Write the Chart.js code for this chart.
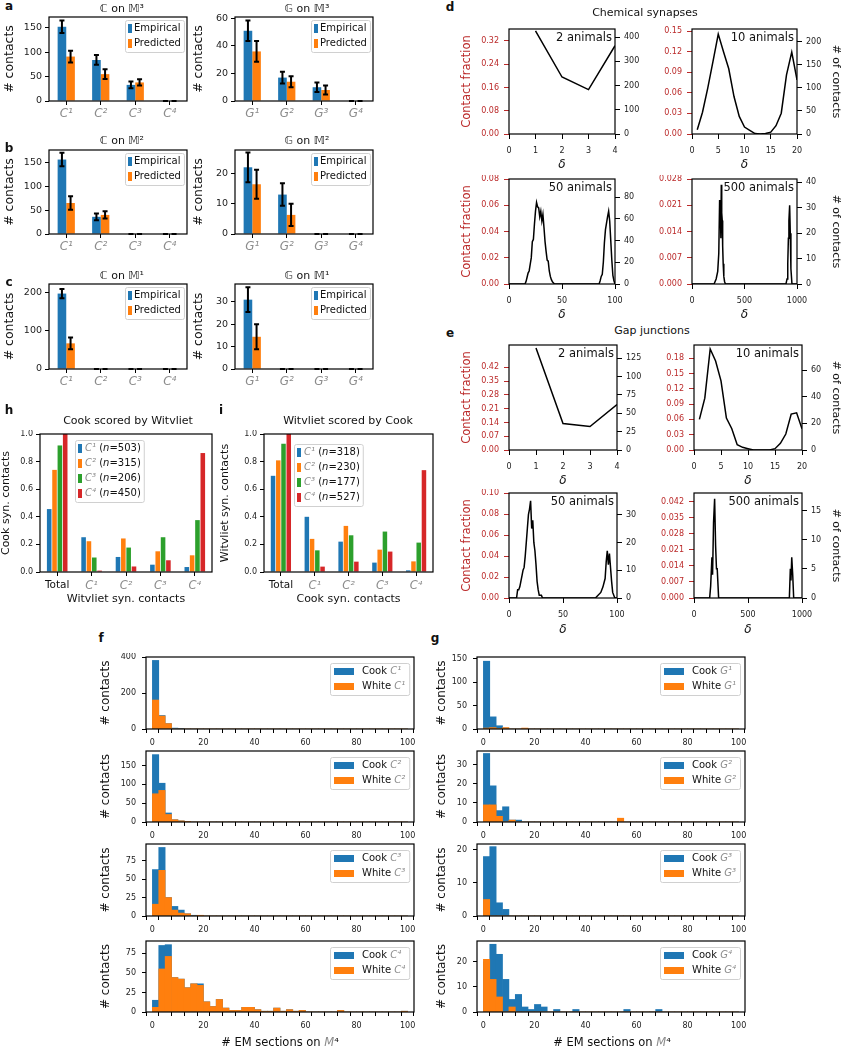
<!DOCTYPE html>
<html>
<head>
<meta charset="utf-8">
<title>Contact statistics</title>
<script src="https://cdn.jsdelivr.net/npm/chart.js@4.4.1/dist/chart.umd.min.js"></script>
<style>
  html, body { margin: 0; padding: 0; background: #fff; }
  body { position: relative; width: 841px; height: 1050px; overflow: hidden; font-family: 'DejaVu Sans', sans-serif; color: #111; }
  canvas { position: absolute; }
  .t { position: absolute; transform: translate(-50%, -50%); white-space: nowrap; line-height: 1; }
  .panel { font-weight: bold; font-size: 12px; }
  .m { font-style: italic; color: #8c8c8c; }
</style>
</head>
<body>
<script>
// ---------- data ----------

// a-c: empirical vs predicted contacts per class
const chemClasses = ['C¹', 'C²', 'C³', 'C⁴'];
const gapClasses = ['G¹', 'G²', 'G³', 'G⁴'];

const empC3 = [152, 84, 33, 0];
const empC3Err = [13, 10, 7, 0];
const predC3 = [91, 55, 38, 0];
const predC3Err = [12, 10, 6.5, 0];
const empG3 = [51, 17, 10, 0];
const empG3Err = [7.5, 4.3, 3.5, 0];
const predG3 = [36, 14, 8, 0];
const predG3Err = [7.5, 4, 3.2, 0];

const empC2 = [156, 36, 0, 0];
const empC2Err = [14, 7, 0, 0];
const predC2 = [65, 40, 0, 0];
const predC2Err = [14, 7.5, 0, 0];
const empG2 = [22, 13, 0, 0];
const empG2Err = [4.9, 3.7, 0, 0];
const predG2 = [16.4, 6.3, 0, 0];
const predG2Err = [4.8, 3.7, 0, 0];

const empC1 = [197, 0, 0, 0];
const empC1Err = [12, 0, 0, 0];
const predC1 = [67, 0, 0, 0];
const predC1Err = [15.5, 0, 0, 0];
const empG1 = [31, 0, 0, 0];
const empG1Err = [5.5, 0, 0, 0];
const predG1 = [14.4, 0, 0, 0];
const predG1Err = [5.6, 0, 0, 0];

// h / i: cross-dataset scoring
const scoreGroups = ['Total', 'C¹', 'C²', 'C³', 'C⁴'];
const cookC1 = [0.456, 0.252, 0.109, 0.053, 0.036];
const cookC2 = [0.74, 0.223, 0.243, 0.15, 0.121];
const cookC3 = [0.917, 0.105, 0.177, 0.252, 0.376];
const cookC4 = [1.0, 0.01, 0.04, 0.085, 0.862];
const cookN = [503, 315, 206, 450];
const witC1 = [0.697, 0.4, 0.22, 0.068, 0.012];
const witC2 = [0.809, 0.24, 0.334, 0.162, 0.077];
const witC3 = [0.93, 0.157, 0.266, 0.293, 0.213];
const witC4 = [1.0, 0.039, 0.075, 0.148, 0.738];
const witN = [318, 230, 177, 527];

// d: chemical synapses, # of contacts vs delta
const chem2Delta = [1, 2, 3, 4];
const chem2Count = [425, 235, 183, 364];
const chem10Delta = [1, 2, 3, 4, 5, 6, 7, 8, 9, 10, 11, 12, 13, 14, 15, 16, 17, 18, 19, 20];
const chem10Count = [9, 47, 99, 157, 216, 178, 141, 81, 38, 15, 8, 1, 0, 1, 4, 18, 45, 128, 177, 117];
const chem50Delta = [0, 15, 16, 17, 18, 19, 20, 21, 22, 23, 24, 25, 26, 27, 28, 29, 30, 31, 32, 33, 34, 35, 36, 37, 38, 39, 40, 41, 42, 43,
  85, 86, 87, 88, 89, 90, 91, 92, 93, 94, 95, 96, 97, 98, 99, 100];
const chem50Count = [0, 0, 2, 6, 10, 12, 18, 24, 39, 41, 55, 67, 75, 71, 70, 62, 67, 58, 64, 52, 39, 30, 22, 21, 12, 7, 4, 2, 1, 0,
  0, 3, 7, 9, 20, 38, 50, 56, 62, 67, 58, 40, 22, 8, 3, 0];
const chem500Delta = [0, 210, 230, 245, 255, 263, 270, 275, 279, 283, 288, 292, 297, 303, 310, 318, 895, 905, 912, 918, 923, 930, 936, 942, 952, 1000];
const chem500Count = [0, 0, 2, 5, 12, 33, 30, 18, 39, 28, 25, 15, 8, 3, 1, 0, 0, 2, 8, 18, 25, 31, 20, 6, 0, 0];

// e: gap junctions
const gap2Delta = [1, 2, 3, 4];
const gap2Count = [139, 36, 32, 62];
const gap10Delta = [1, 2, 3, 4, 5, 6, 7, 8, 9, 10, 11, 12, 13, 14, 15, 16, 17, 18, 19, 20];
const gap10Count = [23, 39, 76, 67, 52, 24, 16, 4, 2, 1, 0, 0, 0, 0, 1, 5, 12, 27, 28, 16];
const gap50Delta = [0, 7, 8, 9, 10, 11, 12, 13, 14, 15, 16, 17, 18, 19, 20, 21, 22, 23, 24, 25, 26, 27, 28, 29, 30, 31,
  80, 85, 87, 89, 90, 91, 92, 93, 95, 96, 98, 100];
const gap50Count = [0, 0, 3, 3, 4, 6, 8, 10, 11, 15, 20, 25, 30, 32, 35, 25, 28, 20, 17, 12, 6, 3, 1, 1, 1, 0,
  0, 2, 4, 7, 13, 17, 12, 16, 6, 2, 0, 0];
const gap500Delta = [0, 145, 154, 166, 172, 181, 191, 200, 208, 215, 228, 883, 892, 898, 905, 914, 923, 1000];
const gap500Count = [0, 0, 2, 7, 4, 13, 17, 9, 5, 5, 0, 0, 5, 3, 7, 4, 0, 0];

// f / g: histograms of # EM sections (bins of 2.5 from 0 to 100)
const BIN = 2.5;
const cookC1Hist = [381, 75, 30, 5, 1, 0, 0, 0, 0, 0, 0, 0, 0, 0, 0, 0, 0, 0, 0, 0, 0, 0, 0, 0, 0, 0, 0, 0, 0, 0, 0, 0, 0, 0, 0, 0, 0, 0, 0, 0];
const whiteC1Hist = [161, 72, 30, 0, 0, 0, 0, 0, 0, 0, 0, 0, 0, 0, 0, 0, 0, 0, 0, 0, 0, 0, 0, 0, 0, 0, 0, 0, 0, 0, 0, 0, 0, 0, 0, 0, 0, 0, 0, 0];
const cookC2Hist = [179, 103, 24, 6, 3, 1, 0, 0, 0, 0, 0, 0, 0, 0, 0, 0, 0, 0, 0, 0, 0, 0, 0, 0, 0, 0, 0, 0, 0, 0, 0, 0, 0, 0, 0, 0, 0, 0, 0, 0];
const whiteC2Hist = [75, 84, 20, 6, 3, 1, 0, 0, 0, 0, 0, 0, 0, 0, 0, 0, 0, 0, 0, 0, 0, 0, 0, 0, 0, 0, 0, 0, 0, 0, 0, 0, 0, 0, 0, 0, 0, 0, 0, 0];
const cookC3Hist = [63, 93, 25, 13, 8, 3, 1, 0, 0, 0, 0, 0, 0, 0, 0, 0, 0, 0, 0, 0, 0, 0, 0, 0, 0, 0, 0, 0, 0, 0, 0, 0, 0, 0, 0, 0, 0, 0, 0, 0];
const whiteC3Hist = [16, 62, 25, 8, 4, 3, 0, 1, 0, 0, 0, 0, 0, 0, 0, 0, 0, 0, 0, 0, 0, 0, 0, 0, 0, 0, 0, 0, 0, 0, 0, 0, 0, 0, 0, 0, 0, 0, 0, 0];
const cookC4Hist = [15, 85, 86, 44, 42, 31, 36, 36, 13, 7, 16, 5, 2, 2, 6, 6, 3, 1, 1, 5, 1, 3, 1, 2, 0, 0, 0, 0, 0, 2, 0, 0, 0, 0, 0, 0, 0, 0, 0, 1];
const whiteC4Hist = [6, 55, 71, 44, 42, 31, 36, 34, 13, 7, 16, 5, 2, 2, 6, 6, 3, 1, 1, 5, 1, 3, 1, 2, 0, 0, 0, 0, 0, 2, 0, 0, 0, 0, 0, 0, 0, 0, 0, 1];
const cookG1Hist = [145, 26, 7, 2, 0, 0, 0, 0, 0, 0, 0, 0, 0, 0, 0, 0, 0, 0, 0, 0, 0, 0, 0, 0, 0, 0, 0, 0, 0, 0, 0, 0, 0, 0, 0, 0, 0, 0, 0, 0];
const whiteG1Hist = [2, 3, 1, 3, 0, 0, 2, 0, 0, 0, 0, 0, 0, 0, 0, 0, 0, 0, 0, 0, 0, 0, 0, 0, 0, 0, 0, 0, 0, 0, 0, 0, 0, 0, 0, 0, 0, 0, 0, 0];
const cookG2Hist = [36, 19, 6, 8, 1, 1, 0, 0, 0, 0, 0, 0, 0, 0, 0, 0, 0, 0, 0, 0, 0, 0, 0, 0, 0, 0, 0, 0, 0, 0, 0, 0, 0, 0, 0, 0, 0, 0, 0, 0];
const whiteG2Hist = [9, 9, 3, 0, 1, 0, 0, 0, 0, 0, 0, 0, 0, 0, 0, 0, 0, 0, 0, 0, 0, 2, 0, 0, 0, 0, 0, 0, 0, 0, 0, 0, 0, 0, 0, 0, 0, 0, 0, 0];
const cookG3Hist = [18, 21, 4, 2, 0, 0, 0, 0, 0, 0, 0, 0, 0, 0, 0, 0, 0, 0, 0, 0, 0, 0, 0, 0, 0, 0, 0, 0, 0, 0, 0, 0, 0, 0, 0, 0, 0, 0, 0, 0];
const whiteG3Hist = [5, 0, 0, 0, 0, 0, 0, 0, 0, 0, 0, 0, 0, 0, 0, 0, 0, 0, 0, 0, 0, 0, 0, 0, 0, 0, 0, 0, 0, 0, 0, 0, 0, 0, 0, 0, 0, 0, 0, 0];
const cookG4Hist = [20, 27, 23, 13, 5, 7, 2, 1, 3, 2, 0, 1, 0, 0, 1, 0, 0, 0, 0, 0, 0, 0, 1, 0, 0, 0, 0, 1, 0, 0, 0, 0, 0, 0, 0, 0, 0, 0, 0, 0];
const whiteG4Hist = [21, 13, 6, 0, 2, 0, 0, 0, 0, 0, 0, 0, 0, 0, 0, 0, 0, 0, 0, 0, 0, 0, 0, 0, 0, 0, 0, 0, 0, 0, 0, 0, 0, 0, 0, 0, 0, 0, 0, 0];

// ---------- styling ----------
const BLUE = '#1f77b4', ORANGE = '#ff7f0e', GREEN = '#2ca02c', RED = '#d62728';
const FRAC_RED = '#bb2a2a';
const MATH_GRAY = '#8c8c8c';

Chart.defaults.font.family = "'DejaVu Sans', sans-serif";
Chart.defaults.color = '#222';
Chart.defaults.plugins.legend.display = false;
Chart.defaults.plugins.tooltip.enabled = false;

// box around the plot area, like matplotlib spines
const frame = {
  id: 'frame',
  afterDraw(chart) {
    const { ctx, chartArea: a } = chart;
    ctx.save();
    ctx.strokeStyle = '#000';
    ctx.lineWidth = 1.2;
    ctx.strokeRect(a.left, a.top, a.right - a.left, a.bottom - a.top);
    ctx.restore();
  }
};

// vertical error bars with caps
const errBars = {
  id: 'errBars',
  afterDatasetsDraw(chart) {
    const ctx = chart.ctx;
    chart.data.datasets.forEach((ds, i) => {
      if (!ds.errors) return;
      const meta = chart.getDatasetMeta(i);
      const ys = chart.scales[meta.yAxisID];
      meta.data.forEach((bar, j) => {
        const v = ds.data[j], e = ds.errors[j];
        const lo = ys.getPixelForValue(v - e), hi = ys.getPixelForValue(v + e);
        ctx.save();
        ctx.strokeStyle = '#000';
        ctx.lineWidth = 2;
        ctx.beginPath();
        ctx.moveTo(bar.x, lo); ctx.lineTo(bar.x, hi);
        ctx.moveTo(bar.x - 2.5, lo); ctx.lineTo(bar.x + 2.5, lo);
        ctx.moveTo(bar.x - 2.5, hi); ctx.lineTo(bar.x + 2.5, hi);
        ctx.stroke();
        ctx.restore();
      });
    });
  }
};

// "N animals" label in the top right corner
const cornerText = {
  id: 'cornerText',
  afterDraw(chart, args, o) {
    if (!o || !o.text) return;
    const { ctx, chartArea: a } = chart;
    ctx.save();
    ctx.font = "11.5px 'DejaVu Sans', sans-serif";
    ctx.fillStyle = '#111';
    ctx.textAlign = 'right';
    ctx.textBaseline = 'top';
    ctx.fillText(o.text, a.right - 3, a.top + 3);
    ctx.restore();
  }
};

// matplotlib-like legend box drawn inside the plot
const boxLegend = {
  id: 'boxLegend',
  afterDraw(chart, args, o) {
    if (!o || !o.items) return;
    const { ctx, chartArea: a } = chart;
    const fs = o.size || 10;
    const fontOf = (p) => (p.m || p.i ? 'italic ' : '') + fs + "px 'DejaVu Sans', sans-serif";
    ctx.save();
    const widths = o.items.map((it) => it.parts.reduce((w, p) => { ctx.font = fontOf(p); return w + ctx.measureText(p.t).width; }, 0));
    const bw = o.padX * 2 + o.patchW + o.gap + Math.max(...widths);
    const bh = o.padY * 2 + o.items.length * o.rowH;
    const x = Math.round(o.side === 'left' ? a.left + o.dx : a.right - o.dx - bw);
    const y = Math.round(a.top + o.dy);
    ctx.fillStyle = 'rgba(255,255,255,0.85)';
    ctx.strokeStyle = '#d0d0d0';
    ctx.lineWidth = 1;
    ctx.beginPath();
    ctx.roundRect(x + 0.5, y + 0.5, bw, bh, 2);
    ctx.fill();
    ctx.stroke();
    o.items.forEach((it, k) => {
      const cy = y + o.padY + (k + 0.5) * o.rowH;
      ctx.fillStyle = it.color;
      ctx.fillRect(x + o.padX, cy - o.patchH / 2, o.patchW, o.patchH);
      let tx = x + o.padX + o.patchW + o.gap;
      ctx.textBaseline = 'middle';
      it.parts.forEach((p) => {
        ctx.font = fontOf(p);
        ctx.fillStyle = p.m ? MATH_GRAY : '#111';
        ctx.fillText(p.t, tx, cy);
        tx += ctx.measureText(p.t).width;
      });
    });
    ctx.restore();
  }
};

Chart.register(frame, errBars, cornerText, boxLegend);

// ---------- helpers ----------
function fixW(px) {
  return (s) => { s.width = px; s.paddingLeft = s.paddingRight = s.paddingTop = s.paddingBottom = 0; };
}
function fixH(px) {
  return (s) => { s.height = px; s.paddingLeft = s.paddingRight = s.paddingTop = s.paddingBottom = 0; };
}

// rect = plot area [x0, y0, x1, y1] on the page; pad = room for axes around it
function makeChart(rect, pad, config) {
  const [x0, y0, x1, y1] = rect;
  const cv = document.createElement('canvas');
  const w = x1 - x0 + pad.l + pad.r;
  const h = y1 - y0 + pad.t + pad.b;
  cv.width = w;
  cv.height = h;
  Object.assign(cv.style, { left: (x0 - pad.l) + 'px', top: (y0 - pad.t) + 'px', width: w + 'px', height: h + 'px' });
  document.body.appendChild(cv);
  const o = config.options;
  o.responsive = false;
  o.animation = false;
  o.layout = { padding: { top: pad.t, left: 0, bottom: 0, right: pad.twin ? 0 : pad.r } };
  for (const s of Object.values(o.scales)) {
    if (s.position === 'bottom') s.afterFit = fixH(pad.b);
    else if (s.position === 'right') s.afterFit = fixW(pad.r);
    else s.afterFit = fixW(pad.l);
  }
  return new Chart(cv, config);
}

function linAxis(o) {
  const ax = {
    type: 'linear',
    position: o.position || 'left',
    min: o.min ?? 0,
    max: o.max,
    border: { display: false },
    grid: { drawOnChartArea: false, drawTicks: true, tickLength: o.tickLen ?? 4, tickColor: o.tickColor || '#000', tickWidth: 1 },
    ticks: {
      stepSize: o.step, autoSkip: false, maxRotation: 0, includeBounds: false,
      color: o.color || '#222', padding: o.pad ?? 3, font: { size: o.size ?? 9 },
      callback: o.fmt || ((v) => String(v))
    },
    title: o.title
      ? { display: true, text: o.title, padding: 0, color: o.titleColor || '#111', font: { size: o.titleSize ?? 11, style: o.titleStyle || 'normal' } }
      : { display: false }
  };
  if (o.ticks) ax.afterBuildTicks = (s) => { s.ticks = o.ticks.map((v) => ({ value: v })); };
  return ax;
}

function catAxis(o) {
  return {
    type: 'category',
    position: 'bottom',
    offset: true,
    border: { display: false },
    grid: { offset: false, drawOnChartArea: false, drawTicks: true, tickLength: 4, tickColor: '#000' },
    ticks: { color: o.color, font: o.font, padding: o.pad ?? 3, maxRotation: 0, autoSkip: false },
    title: o.title ? { display: true, text: o.title, padding: 0, color: '#111', font: { size: 11 } } : { display: false }
  };
}

const pairLegend = {
  side: 'right', dx: 3, dy: 3, padX: 3, padY: 1, rowH: 15, patchW: 4, patchH: 9, gap: 2, size: 10,
  items: [
    { color: BLUE, parts: [{ t: 'Empirical' }] },
    { color: ORANGE, parts: [{ t: 'Predicted' }] }
  ]
};

function contactChart(rect, padL, labels, emp, empErr, pred, predErr, yMax, yStep) {
  return makeChart(rect, { l: padL, r: 6, t: 4, b: 20 }, {
    type: 'bar',
    data: {
      labels,
      datasets: [
        { data: emp, errors: empErr, backgroundColor: BLUE, categoryPercentage: 0.5, barPercentage: 1 },
        { data: pred, errors: predErr, backgroundColor: ORANGE, categoryPercentage: 0.5, barPercentage: 1 }
      ]
    },
    options: {
      scales: {
        x: catAxis({ color: MATH_GRAY, font: { size: 12, style: 'italic' }, pad: 2 }),
        y: linAxis({ max: yMax, step: yStep, size: 9.5, pad: 3, title: '# contacts', titleSize: 12.5 })
      },
      plugins: { boxLegend: pairLegend }
    }
  });
}

function scoreChart(rect, padL, series, counts, yTitle, xTitle, legendDx, legendDy) {
  const colors = [BLUE, ORANGE, GREEN, RED];
  return makeChart(rect, { l: padL, r: 5, t: 4, b: 34 }, {
    type: 'bar',
    data: {
      labels: scoreGroups,
      datasets: series.map((d, k) => ({ data: d, backgroundColor: colors[k], categoryPercentage: 0.62, barPercentage: 0.86 }))
    },
    options: {
      scales: {
        x: catAxis({
          color: (c) => c.index === 0 ? '#111' : MATH_GRAY,
          font: (c) => c.index === 0 ? { size: 10.5 } : { size: 11.5, style: 'italic' },
          pad: 3, title: xTitle
        }),
        y: linAxis({ max: 1, step: 0.2, size: 8, pad: 3, fmt: (v) => v.toFixed(1), title: yTitle, titleSize: 11 })
      },
      plugins: {
        boxLegend: {
          side: 'left', dx: legendDx, dy: legendDy, padX: 3, padY: 1, rowH: 15, patchW: 4, patchH: 9, gap: 3, size: 10,
          items: counts.map((n, k) => ({
            color: colors[k],
            parts: [{ t: chemClasses[k], m: true }, { t: ' (' }, { t: 'n', i: true }, { t: '=' + n + ')' }]
          }))
        }
      }
    }
  });
}

function deltaChart(rect, pad, xs, ys, o) {
  return makeChart(rect, { ...pad, twin: true }, {
    type: 'line',
    data: {
      datasets: [{
        data: xs.map((x, i) => ({ x, y: ys[i] })),
        yAxisID: 'yR', borderColor: '#000', borderWidth: 1.5, pointRadius: 0, tension: 0, fill: false
      }]
    },
    options: {
      scales: {
        x: linAxis({ position: 'bottom', max: o.xMax, step: o.xStep, size: 8, pad: 7, tickLen: 5, title: 'δ', titleSize: 12, titleStyle: 'italic' }),
        yL: linAxis({
          max: o.fracMax, ticks: o.fracTicks, fmt: (v) => v.toFixed(o.dec), color: FRAC_RED, tickColor: FRAC_RED,
          size: 8, tickLen: 5, pad: 5, title: o.left ? 'Contact fraction' : null, titleColor: FRAC_RED, titleSize: 11.5
        }),
        yR: linAxis({ position: 'right', max: o.countMax, step: o.countStep, size: 8, tickLen: 5, pad: 4, title: o.right ? '# of contacts' : null, titleSize: 11 })
      },
      plugins: { cornerText: { text: o.label } }
    }
  });
}

function histChart(rect, padL, cook, white, sym, sup, yMax, yStep) {
  const pts = (arr) => arr.map((v, i) => ({ x: (i + 0.5) * BIN, y: v }));
  return makeChart(rect, { l: padL, r: 8, t: 4, b: 22 }, {
    type: 'bar',
    data: {
      datasets: [
        { data: pts(cook), backgroundColor: BLUE, grouped: false, categoryPercentage: 1, barPercentage: 1, order: 1 },
        { data: pts(white), backgroundColor: ORANGE, grouped: false, categoryPercentage: 1, barPercentage: 1, order: 0 }
      ]
    },
    options: {
      scales: {
        x: linAxis({ position: 'bottom', max: 100, step: 5, size: 8, pad: 5, tickLen: 4, fmt: (v) => (v % 20 === 0 ? String(v) : '') }),
        y: linAxis({ max: yMax, step: yStep, size: 8, pad: 6, tickLen: 4, title: '# contacts', titleSize: 12 })
      },
      plugins: {
        boxLegend: {
          side: 'right', dx: 5, dy: 6, padX: 4, padY: 1, rowH: 15, patchW: 20, patchH: 7, gap: 8, size: 10,
          items: [
            { color: BLUE, parts: [{ t: 'Cook ' }, { t: sym + sup, m: true }] },
            { color: ORANGE, parts: [{ t: 'White ' }, { t: sym + sup, m: true }] }
          ]
        }
      }
    }
  });
}

// ---------- panels a-c ----------
contactChart([49, 17, 187, 101], 47, chemClasses, empC3, empC3Err, predC3, predC3Err, 172, 50);
contactChart([235, 17, 373, 101], 44, gapClasses, empG3, empG3Err, predG3, predG3Err, 61, 20);
contactChart([49, 150, 187, 234], 47, chemClasses, empC2, empC2Err, predC2, predC2Err, 176, 50);
contactChart([235, 150, 373, 234], 44, gapClasses, empG2, empG2Err, predG2, predG2Err, 27.7, 10);
contactChart([49, 284, 187, 369], 47, chemClasses, empC1, empC1Err, predC1, predC1Err, 222, 100);
contactChart([235, 284, 373, 369], 44, gapClasses, empG1, empG1Err, predG1, predG1Err, 38, 10);

// ---------- panels h, i ----------
scoreChart([40, 434, 212, 572], 40, [cookC1, cookC2, cookC3, cookC4], cookN, 'Cook syn. contacts', 'Witvliet syn. contacts', 35, 6);
scoreChart([264, 434, 433, 572], 45, [witC1, witC2, witC3, witC4], witN, 'Witvliet syn. contacts', 'Cook syn. contacts', 30, 10);

// ---------- panel d: chemical synapses ----------
deltaChart([509, 29, 615, 134], { l: 49, r: 30, t: 4, b: 38 }, chem2Delta, chem2Count,
  { xMax: 4, xStep: 1, fracMax: 0.361, fracTicks: [0, 0.08, 0.16, 0.24, 0.32], dec: 2, countMax: 433, countStep: 100, left: true, label: '2 animals' });
deltaChart([692, 29, 797, 134], { l: 40, r: 45, t: 4, b: 38 }, chem10Delta, chem10Count,
  { xMax: 20, xStep: 5, fracMax: 0.153, fracTicks: [0, 0.03, 0.06, 0.09, 0.12, 0.15], dec: 2, countMax: 227, countStep: 50, right: true, label: '10 animals' });
deltaChart([509, 179, 615, 284], { l: 49, r: 30, t: 4, b: 38 }, chem50Delta, chem50Count,
  { xMax: 100, xStep: 50, fracMax: 0.08, fracTicks: [0, 0.02, 0.04, 0.06, 0.08], dec: 2, countMax: 96.6, countStep: 20, left: true, label: '50 animals' });
deltaChart([692, 179, 797, 284], { l: 40, r: 45, t: 4, b: 38 }, chem500Delta, chem500Count,
  { xMax: 1000, xStep: 500, fracMax: 0.028, fracTicks: [0, 0.007, 0.014, 0.021, 0.028], dec: 3, countMax: 41.3, countStep: 10, right: true, label: '500 animals' });

// ---------- panel e: gap junctions ----------
deltaChart([509, 345, 617, 450], { l: 49, r: 30, t: 4, b: 38 }, gap2Delta, gap2Count,
  { xMax: 4, xStep: 1, fracMax: 0.534, fracTicks: [0, 0.07, 0.14, 0.21, 0.28, 0.35, 0.42], dec: 2, countMax: 143, countStep: 25, left: true, label: '2 animals' });
deltaChart([694, 345, 802, 450], { l: 40, r: 40, t: 4, b: 38 }, gap10Delta, gap10Count,
  { xMax: 20, xStep: 5, fracMax: 0.206, fracTicks: [0, 0.03, 0.06, 0.09, 0.12, 0.15, 0.18], dec: 2, countMax: 79, countStep: 20, right: true, label: '10 animals' });
deltaChart([509, 493, 617, 598], { l: 49, r: 30, t: 4, b: 39 }, gap50Delta, gap50Count,
  { xMax: 100, xStep: 50, fracMax: 0.10, fracTicks: [0, 0.02, 0.04, 0.06, 0.08, 0.10], dec: 2, countMax: 37.8, countStep: 10, left: true, label: '50 animals' });
deltaChart([694, 493, 802, 598], { l: 40, r: 40, t: 4, b: 39 }, gap500Delta, gap500Count,
  { xMax: 1000, xStep: 500, fracMax: 0.0459, fracTicks: [0, 0.007, 0.014, 0.021, 0.028, 0.035, 0.042], dec: 3, countMax: 18, countStep: 5, right: true, label: '500 animals' });

// ---------- panels f, g ----------
histChart([146, 657, 414, 729], 47, cookC1Hist, whiteC1Hist, 'C', '¹', 400, 200);
histChart([146, 751, 414, 822], 47, cookC2Hist, whiteC2Hist, 'C', '²', 188.6, 50);
histChart([146, 844, 414, 916], 47, cookC3Hist, whiteC3Hist, 'C', '³', 97.7, 25);
histChart([146, 941, 414, 1012], 47, cookC4Hist, whiteC4Hist, 'C', '⁴', 90.7, 25);
histChart([477, 657, 745, 729], 42, cookG1Hist, whiteG1Hist, 'G', '¹', 154, 50);
histChart([477, 751, 745, 822], 42, cookG2Hist, whiteG2Hist, 'G', '²', 37.3, 10);
histChart([477, 844, 745, 916], 42, cookG3Hist, whiteG3Hist, 'G', '³', 21.8, 10);
histChart([477, 941, 745, 1012], 42, cookG4Hist, whiteG4Hist, 'G', '⁴', 28.3, 10);

// ---------- text outside the plots ----------
function addText(x, y, html, cls, size) {
  const d = document.createElement('div');
  d.className = 't ' + (cls || '');
  d.style.left = x + 'px';
  d.style.top = y + 'px';
  if (size) d.style.fontSize = size + 'px';
  d.innerHTML = html;
  document.body.appendChild(d);
}

[['a', 9, 6], ['b', 9, 148], ['c', 9, 282], ['h', 9, 410], ['i', 221, 410],
 ['d', 450, 7], ['e', 450, 333], ['f', 101, 638], ['g', 435, 638]]
  .forEach(([t, x, y]) => addText(x, y, t, 'panel'));

addText(122, 8, 'ℂ on 𝕄³', '', 11);
addText(307, 8, '𝔾 on 𝕄³', '', 11);
addText(122, 140, 'ℂ on 𝕄²', '', 11);
addText(307, 140, '𝔾 on 𝕄²', '', 11);
addText(122, 275, 'ℂ on 𝕄¹', '', 11);
addText(307, 275, '𝔾 on 𝕄¹', '', 11);
addText(128, 420, 'Cook scored by Witvliet', '', 11);
addText(348, 420, 'Witvliet scored by Cook', '', 11);
addText(645, 12, 'Chemical synapses', '', 11);
addText(652, 330, 'Gap junctions', '', 11);
addText(280, 1043, '# EM sections on <span class="m">M</span>⁴', '', 11.5);
addText(612, 1043, '# EM sections on <span class="m">M</span>⁴', '', 11.5);
</script>
</body>
</html>
